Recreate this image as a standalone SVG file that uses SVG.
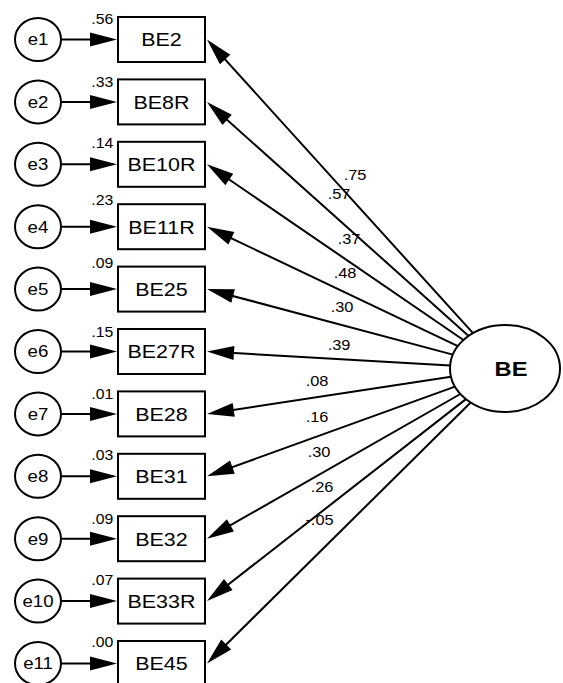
<svg xmlns="http://www.w3.org/2000/svg" width="563" height="683" viewBox="0 0 563 683">
  <style>
    .obs { fill: #fff; stroke: #000; stroke-width: 2; }
    .err { fill: #fff; stroke: #000; stroke-width: 2; }
    .lat { fill: #fff; stroke: #000; stroke-width: 2; }
    .path { fill: none; stroke: #000; stroke-width: 2; marker-end: url(#head); }
    text { font-family: "Liberation Sans", Arial, sans-serif; fill: #000;
           transform-box: fill-box; transform-origin: center; transform: scaleX(1.13); }
    .lbl { font-size: 19px; text-anchor: middle; }
    .elb { font-size: 16.5px; text-anchor: middle; }
    .var { font-size: 14px; text-anchor: end; }
    .coef { font-size: 14.5px; }
    .latlbl { font-size: 21px; font-weight: bold; text-anchor: middle; }
  </style>
  <defs>
    <marker id="head" markerUnits="userSpaceOnUse" markerWidth="27" markerHeight="14"
            refX="17" refY="7" orient="auto" overflow="visible">
      <path d="M0,0 L27,7 L0,14 Z" fill="#000"/>
    </marker>
  </defs>

  <rect width="563" height="683" fill="#fff"/>

  <!-- connectors: error terms to indicators, factor to indicators -->
  <g id="connectors">
    <line class="path" x1="61" y1="39.5" x2="107" y2="39.5"/>
    <line class="path" x1="61" y1="101.9" x2="107" y2="101.9"/>
    <line class="path" x1="61" y1="164.3" x2="107" y2="164.3"/>
    <line class="path" x1="61" y1="226.7" x2="107" y2="226.7"/>
    <line class="path" x1="61" y1="289.1" x2="107" y2="289.1"/>
    <line class="path" x1="61" y1="351.5" x2="107" y2="351.5"/>
    <line class="path" x1="61" y1="413.9" x2="107" y2="413.9"/>
    <line class="path" x1="61" y1="476.3" x2="107" y2="476.3"/>
    <line class="path" x1="61" y1="538.7" x2="107" y2="538.7"/>
    <line class="path" x1="61" y1="601.1" x2="107" y2="601.1"/>
    <line class="path" x1="61" y1="663.5" x2="107" y2="663.5"/>

    <line class="path" x1="473.0" y1="333.1" x2="213.7" y2="46.9"/>
    <line class="path" x1="468.6" y1="335.9" x2="214.45" y2="108.57"/>
    <line class="path" x1="463.4" y1="340.0" x2="215.25" y2="169.95"/>
    <line class="path" x1="457.9" y1="346.1" x2="216.03" y2="230.99"/>
    <line class="path" x1="452.9" y1="354.6" x2="216.66" y2="291.68"/>
    <line class="path" x1="450.2" y1="365.4" x2="216.98" y2="352.07"/>
    <line class="path" x1="451.0" y1="376.7" x2="216.89" y2="412.39"/>
    <line class="path" x1="455.0" y1="386.6" x2="216.40" y2="472.90"/>
    <line class="path" x1="460.4" y1="394.0" x2="215.68" y2="533.74"/>
    <line class="path" x1="465.9" y1="399.1" x2="214.88" y2="594.95"/>
    <line class="path" x1="470.7" y1="402.5" x2="214.11" y2="656.47"/>

    <!-- standardized loadings -->
    <text class="coef" x="345" y="180">.75</text>
    <text class="coef" x="329" y="199">.57</text>
    <text class="coef" x="339" y="244">.37</text>
    <text class="coef" x="335" y="278">.48</text>
    <text class="coef" x="332" y="312">.30</text>
    <text class="coef" x="329" y="350">.39</text>
    <text class="coef" x="307" y="386">.08</text>
    <text class="coef" x="307" y="422">.16</text>
    <text class="coef" x="309" y="457">.30</text>
    <text class="coef" x="312" y="492">.26</text>
    <text class="coef" x="307" y="525">-.05</text>
  </g>

  <!-- latent factor -->
  <g id="BE">
    <ellipse class="lat" cx="505" cy="368.5" rx="55" ry="43.5"/>
    <text class="latlbl" x="511" y="376">BE</text>
  </g>

  <!-- error terms -->
  <g id="e1"><ellipse class="err" cx="38" cy="39.5" rx="23" ry="21.5"/><text class="elb" x="38" y="45.5">e1</text></g>
  <g id="e2"><ellipse class="err" cx="38" cy="101.9" rx="23" ry="21.5"/><text class="elb" x="38" y="107.9">e2</text></g>
  <g id="e3"><ellipse class="err" cx="38" cy="164.3" rx="23" ry="21.5"/><text class="elb" x="38" y="170.3">e3</text></g>
  <g id="e4"><ellipse class="err" cx="38" cy="226.7" rx="23" ry="21.5"/><text class="elb" x="38" y="232.7">e4</text></g>
  <g id="e5"><ellipse class="err" cx="38" cy="289.1" rx="23" ry="21.5"/><text class="elb" x="38" y="295.1">e5</text></g>
  <g id="e6"><ellipse class="err" cx="38" cy="351.5" rx="23" ry="21.5"/><text class="elb" x="38" y="357.5">e6</text></g>
  <g id="e7"><ellipse class="err" cx="38" cy="413.9" rx="23" ry="21.5"/><text class="elb" x="38" y="419.9">e7</text></g>
  <g id="e8"><ellipse class="err" cx="38" cy="476.3" rx="23" ry="21.5"/><text class="elb" x="38" y="482.3">e8</text></g>
  <g id="e9"><ellipse class="err" cx="38" cy="538.7" rx="23" ry="21.5"/><text class="elb" x="38" y="544.7">e9</text></g>
  <g id="e10"><ellipse class="err" cx="38" cy="601.1" rx="23" ry="21.5"/><text class="elb" x="38" y="607.1">e10</text></g>
  <g id="e11"><ellipse class="err" cx="38" cy="663.5" rx="23" ry="21.5"/><text class="elb" x="38" y="669.5">e11</text></g>

  <!-- observed indicators with squared multiple correlations -->
  <g id="BE2"><rect class="obs" x="118" y="17" width="87" height="45"/><text class="lbl" x="161.5" y="46.5">BE2</text><text class="var" x="112" y="24.5">.56</text></g>
  <g id="BE8R"><rect class="obs" x="118" y="79.4" width="87" height="45"/><text class="lbl" x="161.5" y="108.9">BE8R</text><text class="var" x="112" y="87.5">.33</text></g>
  <g id="BE10R"><rect class="obs" x="118" y="141.8" width="87" height="45"/><text class="lbl" x="161.5" y="171.3">BE10R</text><text class="var" x="112" y="148">.14</text></g>
  <g id="BE11R"><rect class="obs" x="118" y="204.2" width="87" height="45"/><text class="lbl" x="161.5" y="233.7">BE11R</text><text class="var" x="112" y="205">.23</text></g>
  <g id="BE25"><rect class="obs" x="118" y="266.6" width="87" height="45"/><text class="lbl" x="161.5" y="296.1">BE25</text><text class="var" x="112" y="268">.09</text></g>
  <g id="BE27R"><rect class="obs" x="118" y="329" width="87" height="45"/><text class="lbl" x="161.5" y="358.5">BE27R</text><text class="var" x="112" y="337.5">.15</text></g>
  <g id="BE28"><rect class="obs" x="118" y="391.4" width="87" height="45"/><text class="lbl" x="161.5" y="420.9">BE28</text><text class="var" x="112" y="399.5">.01</text></g>
  <g id="BE31"><rect class="obs" x="118" y="453.8" width="87" height="45"/><text class="lbl" x="161.5" y="483.3">BE31</text><text class="var" x="112" y="460.5">.03</text></g>
  <g id="BE32"><rect class="obs" x="118" y="516.2" width="87" height="45"/><text class="lbl" x="161.5" y="545.7">BE32</text><text class="var" x="112" y="524.5">.09</text></g>
  <g id="BE33R"><rect class="obs" x="118" y="578.6" width="87" height="45"/><text class="lbl" x="161.5" y="608.1">BE33R</text><text class="var" x="112" y="585.5">.07</text></g>
  <g id="BE45"><rect class="obs" x="118" y="641" width="87" height="45"/><text class="lbl" x="161.5" y="670.5">BE45</text><text class="var" x="112" y="647">.00</text></g>
</svg>
